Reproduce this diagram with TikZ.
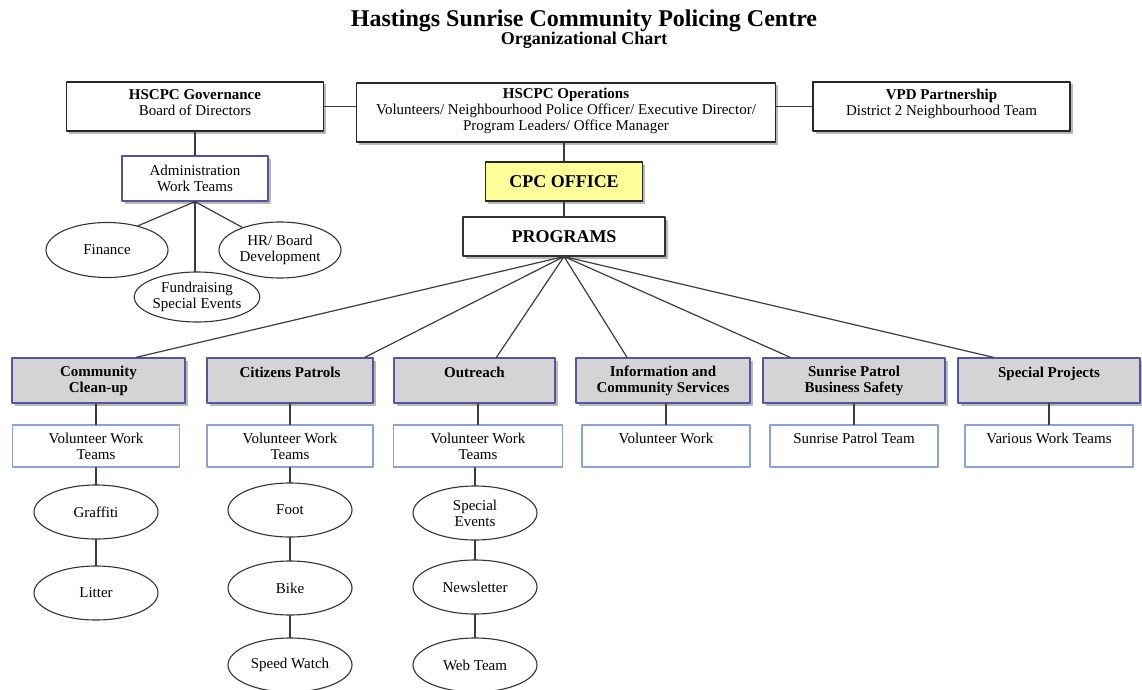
\documentclass[tikz,border=0pt]{standalone}
\usepackage{fontspec}
\setmainfont{Liberation Serif}
\usetikzlibrary{shapes.geometric,shadows}
\definecolor{progfill}{RGB}{212,212,212}
\definecolor{progline}{RGB}{84,84,160}
\definecolor{volline}{RGB}{140,162,214}
\definecolor{cpcfill}{RGB}{255,255,153}
\definecolor{linkgray}{RGB}{60,60,60}

\begin{document}
\begin{tikzpicture}[line cap=round,line join=round,x=1pt,y=-1pt,
  txt/.style={font=\fontsize{15}{16}\selectfont,align=center,inner sep=1pt},
  shad/.style={drop shadow={shadow xshift=2.5pt,shadow yshift=-2.5pt,opacity=0.55}},
  topbox/.style={txt,draw=black!85,line width=1.3pt,fill=white,shad},
  progbox/.style={txt,font=\bfseries\fontsize{15}{16}\selectfont,draw=progline,line width=1.5pt,fill=progfill,minimum height=45pt,shad},
  volbox/.style={txt,draw=volline,line width=1.1pt,fill=white,minimum width=168pt,minimum height=42pt},
  team/.style={txt,ellipse,draw=black!80,line width=1.1pt,minimum width=124pt,minimum height=54pt,inner sep=0pt},
  link/.style={draw=linkgray,line width=1.2pt}]
\useasboundingbox (0,0) rectangle (1142,690);

% title
\node[font=\bfseries\fontsize{24}{27}\selectfont,anchor=base] (title) at (584,27) {Hastings Sunrise Community Policing Centre};
\node[font=\bfseries\fontsize{18}{20}\selectfont,anchor=base] (subtitle) at (584,45) {Organizational Chart};

% top row
\node[topbox,minimum width=257pt,minimum height=49pt] (gov) at (195,106.5) {\textbf{HSCPC Governance}\\Board of Directors\\[-8pt]\mbox{}};
\node[topbox,minimum width=419pt,minimum height=59pt] (ops) at (566,112.5) {\textbf{HSCPC Operations}\\Volunteers/ Neighbourhood Police Officer/ Executive Director/\\Program Leaders/ Office Manager\\[-10pt]\mbox{}};
\node[topbox,minimum width=257pt,minimum height=49pt] (vpd) at (941.5,106.5) {\textbf{VPD Partnership}\\District 2 Neighbourhood Team\\[-8pt]\mbox{}};
\draw[link] (gov.east) -- (gov.east -| ops.west);
\draw[link] (vpd.west -| ops.east) -- (vpd.west);

% administration
\node[topbox,draw=progline,line width=1.3pt,minimum width=146pt,minimum height=45pt] (admin) at (195,178.5) {Administration\\Work Teams};
\node[team,minimum width=122pt,minimum height=55pt] (finance) at (107,250) {Finance};
\node[team,minimum width=120pt,minimum height=50pt] (fund) at (197,297) {Fundraising\\Special Events};
\node[team,minimum width=122pt,minimum height=56pt] (hr) at (280,250) {HR/ Board\\Development};
\draw[link] (gov.south) -- (admin.north);
\draw[link] (admin.south) -- (finance.38);
\draw[link] (admin.south) -- (admin.south |- fund.north);
\draw[link] (admin.south) -- (hr.149);

% office and programs
\node[topbox,fill=cpcfill,font=\bfseries\fontsize{18}{20}\selectfont,minimum width=157pt,minimum height=39pt] (cpc) at (564,181.5) {CPC OFFICE};
\node[topbox,font=\bfseries\fontsize{18}{20}\selectfont,draw=black!80,line width=1.1pt,minimum width=202pt,minimum height=39pt] (prog) at (564,236.5) {PROGRAMS};
\draw[link] (cpc.north |- ops.south) -- (cpc.north);
\draw[link] (cpc.south) -- (prog.north);

% program boxes
\node[progbox,minimum width=173pt] (cc) at (98.5,380.5) {Community\\Clean-up};
\node[progbox,minimum width=166pt] (cp) at (290,380.5) {Citizens Patrols\\\mbox{}};
\node[progbox,minimum width=161pt] (or) at (474.5,380.5) {Outreach\\\mbox{}};
\node[progbox,minimum width=174pt] (ic) at (663,380.5) {Information and\\Community Services};
\node[progbox,minimum width=182pt] (sp) at (854,380.5) {Sunrise Patrol\\Business Safety};
\node[progbox,minimum width=182pt] (sj) at (1049,380.5) {Special Projects\\\mbox{}};
\foreach \n/\s in {cc/38,cp/75,or/22,ic/-36,sp/-64,sj/-56}
  \draw[link] (prog.south) -- ([xshift=\s pt]\n.north);

% volunteer boxes
\node[volbox,minimum width=167pt] (vcc) at (96,446) {Volunteer Work\\Teams};
\node[volbox,minimum width=166pt] (vcp) at (290,446) {Volunteer Work\\Teams};
\node[volbox,minimum width=169pt] (vor) at (478,446) {Volunteer Work\\Teams};
\node[volbox] (vic) at (666,446) {Volunteer Work\\\mbox{}};
\node[volbox] (vsp) at (854,446) {Sunrise Patrol Team\\\mbox{}};
\node[volbox] (vsj) at (1049,446) {Various Work Teams\\\mbox{}};
\foreach \n in {cc,cp,or,ic,sp,sj}
  \draw[link] (v\n.north |- \n.south) -- (v\n.north);

% teams
\node[team] (graffiti) at (96,512) {Graffiti};
\node[team] (litter) at (96,593) {Litter};
\node[team] (foot) at (290,510) {Foot};
\node[team] (bike) at (290,588) {Bike};
\node[team] (speed) at (290,665) {Speed Watch};
\node[team] (events) at (475,513) {Special\\Events};
\node[team] (news) at (475,587) {Newsletter};
\node[team] (web) at (475,665) {Web Team};
\draw[link] (vcc) -- (graffiti) -- (litter);
\draw[link] (vcp) -- (foot) -- (bike) -- (speed);
\draw[link] (events.north |- vor.south) -- (events) -- (news) -- (web);
\end{tikzpicture}
\end{document}
